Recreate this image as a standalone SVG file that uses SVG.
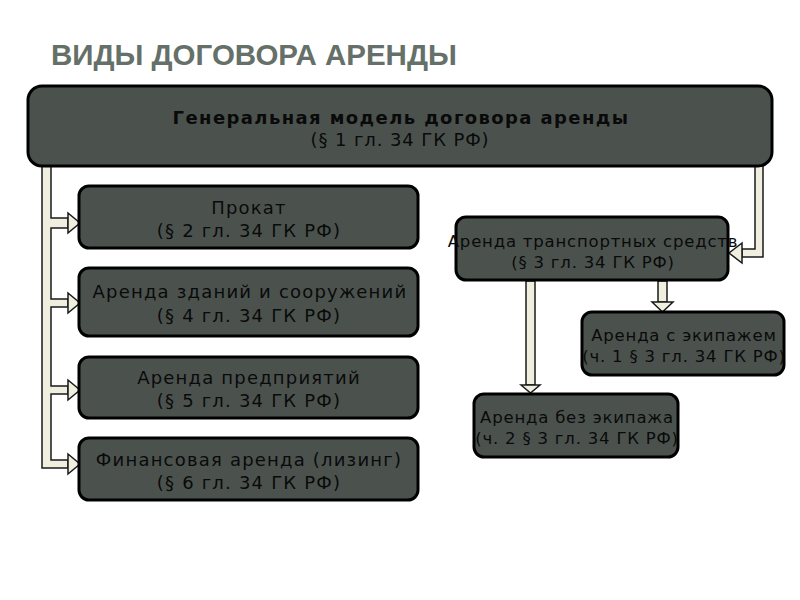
<svg xmlns="http://www.w3.org/2000/svg" width="800" height="600" viewBox="0 0 800 600">
<style>
.box{fill:#4b524e;stroke:#000;stroke-width:3}
.t{font-family:"DejaVu Sans",sans-serif;font-size:18px;letter-spacing:1.2px;fill:#0a0a0a;text-anchor:middle}
.b{font-weight:bold;letter-spacing:1.4px}
.m{letter-spacing:0.9px}
.sm{font-size:16.5px;letter-spacing:0.8px}
.shaft{fill:#efeedf;stroke:#1a1a1a;stroke-width:1.5}
</style>
<rect width="800" height="600" fill="#fff"/>
<text x="51" y="65" font-family="Liberation Sans, Arial, sans-serif" font-weight="bold" font-size="29.5" fill="#657069">ВИДЫ ДОГОВОРА АРЕНДЫ</text>
<g id="connectors">
<path class="shaft" d="M42,166 V468 H68 V460 H51 V394 H68 V386 H51 V307 H68 V299 H51 V228 H68 V218 H51 V166 Z"/>
<polygon class="shaft" points="68,213 80,223 68,233"/>
<polygon class="shaft" points="68,293 80,303 68,313"/>
<polygon class="shaft" points="68,380 80,390 68,400"/>
<polygon class="shaft" points="68,454 80,464 68,474"/>
<path class="shaft" d="M755,166 V249 H742 V257 H763 V166 Z"/>
<polygon class="shaft" points="742,243 729,253 742,263"/>
<rect class="shaft" x="526" y="281" width="9" height="104"/>
<polygon class="shaft" points="521,385 530.5,393 540,385"/>
<rect class="shaft" x="658" y="281" width="9" height="21"/>
<polygon class="shaft" points="652,302 662.5,312 673,302"/>
</g>
<g id="main"><rect class="box" x="28" y="86" width="744" height="80" rx="14"/>
<text class="t b" x="401" y="124">Генеральная модель договора аренды</text>
<text class="t m" x="400" y="146">(§ 1 гл. 34 ГК РФ)</text></g>
<g id="prokat"><rect class="box" x="79" y="186" width="339" height="62" rx="10"/>
<text class="t" x="249" y="214">Прокат</text><text class="t" x="249" y="237">(§ 2 гл. 34 ГК РФ)</text></g>
<g id="zdaniya"><rect class="box" x="79" y="268" width="339" height="68" rx="10"/>
<text class="t" x="250" y="298">Аренда зданий и сооружений</text><text class="t" x="249" y="322">(§ 4 гл. 34 ГК РФ)</text></g>
<g id="predpr"><rect class="box" x="79" y="357" width="339" height="61" rx="10"/>
<text class="t" x="249" y="384">Аренда предприятий</text><text class="t" x="249" y="407">(§ 5 гл. 34 ГК РФ)</text></g>
<g id="lizing"><rect class="box" x="79" y="438" width="339" height="62" rx="10"/>
<text class="t" x="249" y="466">Финансовая аренда (лизинг)</text><text class="t" x="249" y="489">(§ 6 гл. 34 ГК РФ)</text></g>
<g id="transport"><rect class="box" x="456" y="217" width="272" height="63" rx="10"/>
<text class="t sm" x="593" y="247">Аренда транспортных средств</text><text class="t sm" x="593" y="268">(§ 3 гл. 34 ГК РФ)</text></g>
<g id="s_ekip"><rect class="box" x="582" y="312" width="202" height="63" rx="10"/>
<text class="t sm" x="684" y="341">Аренда с экипажем</text><text class="t sm" x="684" y="362">(ч. 1 § 3 гл. 34 ГК РФ)</text></g>
<g id="bez_ekip"><rect class="box" x="474" y="394" width="204" height="63" rx="10"/>
<text class="t sm" x="577" y="423">Аренда без экипажа</text><text class="t sm" x="577" y="444">(ч. 2 § 3 гл. 34 ГК РФ)</text></g>
</svg>
